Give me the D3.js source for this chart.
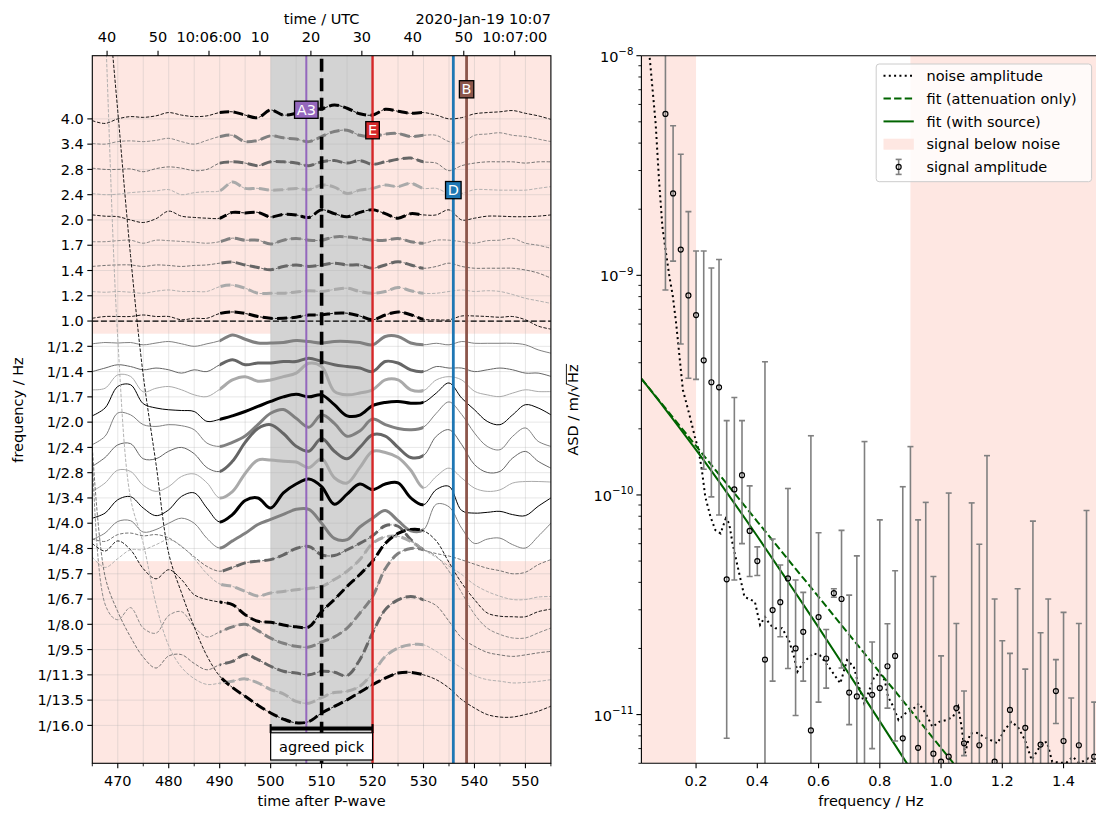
<!DOCTYPE html>
<html><head><meta charset="utf-8">
<script src="https://cdn.jsdelivr.net/npm/d3@7"></script>
<style>body{margin:0;background:#fff}svg{display:block}text{font-family:"DejaVu Sans","Liberation Sans",sans-serif}</style>
</head><body><svg id="c" width="1096" height="814"></svg>
<script>
// ---------------- DATA: left panel ----------------
const rowLabels = ["4.0","3.4","2.8","2.4","2.0","1.7","1.4","1.2","1.0","1/1.2","1/1.4","1/1.7","1/2.0","1/2.4","1/2.8","1/3.4","1/4.0","1/4.8","1/5.7","1/6.7","1/8.0","1/9.5","1/11.3","1/13.5","1/16.0"];
const traceTimes = [465,467.5,470,472.5,475,477.5,480,482.5,485,487.5,490,492.5,495,497.5,500,502.5,505,507.5,510,512.5,515,517.5,520,522.5,525,527.5,530,532.5,535,537.5,540,542.5,545,547.5,550,552.5,555];
// normalised trace amplitude per frequency row (row units, positive = upwards)
const traceOffsets = [
[-0.07,-0.18,0.0,0.09,0.06,0.12,0.25,0.15,0.09,0.12,0.25,0.28,0.15,0.05,0.35,0.15,0.22,0.35,0.40,0.55,0.42,0.2,0.15,0.38,0.3,0.22,0.25,0.15,0.0,0.05,0.2,0.25,0.28,0.33,0.22,0.12,-0.02],
[0.03,0.0,0.1,0.13,0.1,0.15,0.23,0.1,0.0,0.15,0.3,0.35,0.1,0.15,0.33,0.25,0.2,0.1,0.3,0.5,0.55,0.35,0.3,0.4,0.42,0.3,0.35,0.35,0.1,0.05,0.35,0.4,0.45,0.35,0.3,0.2,0.1],
[0.05,0.0,0.0,0.02,-0.09,0.03,0.1,0.05,-0.05,0.0,0.25,0.3,0.25,0.15,0.3,0.3,0.25,0.15,0.3,0.35,0.25,0.35,0.2,0.3,0.4,0.45,0.3,0.25,-0.05,0.15,0.25,0.3,0.3,0.3,0.25,0.3,0.3],
[0.05,0.0,0.02,0.08,0.12,0.15,0.2,0.0,0.08,0.12,0.15,0.5,0.25,0.25,0.18,0.2,0.25,0.2,0.38,0.3,0.05,0.18,0.25,0.38,0.32,0.45,0.25,0.25,0.05,0.05,0.2,0.2,0.18,0.18,0.18,0.25,0.32],
[0.2,0.15,0.13,0.0,-0.1,0.05,0.35,0.15,0.1,0.07,0.07,0.3,0.28,0.3,0.12,0.22,0.2,0.1,0.4,0.25,0.13,0.3,0.4,0.25,0.07,0.25,0.2,0.2,0.4,0.0,0.07,0.15,0.15,0.13,0.13,0.15,0.2],
[0.14,0.14,0.18,0.2,0.08,0.2,0.18,0.15,0.12,0.08,0.14,0.28,0.2,0.2,0.05,0.2,0.27,0.2,0.2,0.33,0.33,0.27,0.2,0.2,0.27,0.14,0.08,0.2,0.2,0.14,0.08,0.18,0.2,0.27,0.08,0.0,-0.12],
[0.16,0.2,0.22,0.22,0.16,0.22,0.2,0.16,0.2,0.22,0.29,0.33,0.22,0.12,0.03,0.16,0.22,0.16,0.22,0.29,0.22,0.22,0.09,0.22,0.35,0.22,0.09,0.16,0.29,0.16,0.09,0.09,0.09,0.09,0.02,-0.1,-0.3],
[0.17,0.14,0.17,0.14,0.1,0.18,0.23,0.17,0.17,0.17,0.36,0.42,0.3,0.1,0.1,0.1,0.15,0.2,0.17,0.25,0.3,0.17,0.1,0.17,0.33,0.2,0.1,0.1,0.17,0.23,0.17,0.2,0.17,0.05,-0.1,-0.2,-0.3],
[0.11,0.18,0.18,0.18,0.24,0.18,0.18,0.05,0.11,0.11,0.3,0.36,0.3,0.18,0.11,0.11,0.15,0.24,0.24,0.31,0.31,0.2,0.05,0.24,0.36,0.25,0.07,0.05,0.05,0.2,0.2,0.18,0.15,0.18,0.05,-0.2,-0.32],
[0.1,0.15,0.13,0.15,0.06,0.13,0.19,0.1,0.0,0.1,0.22,0.45,0.28,0.13,0.13,0.15,0.23,0.19,0.13,0.19,0.19,0.15,0.06,0.39,0.39,0.13,0.06,0.12,0.06,0.19,0.12,0.12,0.12,0.12,0.06,-0.14,-0.27],
[0.0,0.14,0.27,0.2,0.07,0.14,0.07,-0.06,0.07,0.0,0.27,0.47,0.27,0.34,0.34,0.4,0.4,0.53,0.4,0.27,0.2,0.14,0.0,0.4,0.34,0.07,0.0,0.2,0.14,0.14,0.0,0.07,0.14,0.07,-0.06,-0.06,-0.19],
[0.28,0.34,0.87,0.81,0.2,0.34,0.41,0.28,0.08,0.01,0.3,0.67,0.8,0.62,0.67,0.8,0.94,1.33,1.2,0.22,0.08,0.15,0.28,0.67,0.67,0.28,0.25,0.67,0.8,0.67,0.22,0.08,0.01,0.15,0.28,0.21,0.21],
[0.25,0.56,1.41,1.48,0.73,0.56,0.49,0.46,0.42,0.03,0.11,0.25,0.42,0.62,0.82,1.0,1.1,1.0,1.08,0.69,0.25,0.28,0.65,0.78,0.82,0.75,0.78,1.15,1.55,0.95,0.49,0.03,-0.1,0.29,0.69,0.56,0.29],
[0.11,0.44,1.36,1.29,0.9,0.83,0.9,0.86,0.7,0.17,0.04,0.2,0.45,0.9,1.35,1.5,1.15,0.8,1.29,0.95,0.44,0.65,1.12,0.9,0.75,0.7,0.8,1.35,1.8,1.3,0.57,0.04,-0.09,0.44,0.77,0.24,0.04],
[0.25,0.6,1.1,1.15,0.55,0.55,0.85,1.0,0.75,0.2,0.05,0.45,1.2,1.75,1.9,1.55,1.05,0.85,1.35,0.85,0.55,1.0,1.5,1.45,1.0,0.6,0.68,1.44,1.7,1.11,0.32,0.01,0.05,0.58,0.84,0.45,0.18],
[0.26,0.59,1.1,1.05,0.5,0.26,0.45,0.85,0.95,0.6,0.0,0.25,0.97,1.5,1.5,1.45,1.42,1.2,1.55,0.8,0.59,1.2,1.84,1.8,1.6,1.1,0.4,0.85,1.18,0.79,0.39,0.26,0.32,0.59,0.65,0.65,0.63],
[0.2,0.4,0.93,1.05,0.6,0.3,0.53,1.06,1.2,0.6,0.05,0.34,0.9,1.0,0.6,1.2,1.55,1.75,1.45,0.75,1.15,1.55,1.33,1.55,1.6,1.0,0.73,1.33,1.46,0.5,0.4,0.43,0.47,0.34,0.3,0.67,1.0],
[0.35,0.61,1.07,1.1,0.65,0.75,1.0,1.2,1.0,0.4,0.02,0.3,0.6,0.95,1.15,1.35,1.55,1.55,1.0,0.4,0.35,0.85,1.2,1.5,1.1,0.7,0.74,1.75,1.65,0.8,0.2,0.37,0.41,0.15,0.02,0.48,1.0],
[1.38,1.28,1.55,1.61,1.5,1.55,1.42,1.08,0.67,0.29,0.1,0.25,0.43,0.5,0.56,0.75,1.0,1.08,0.75,0.72,0.95,1.2,1.5,1.9,1.88,1.35,0.95,0.8,0.7,0.55,0.38,0.22,0.12,0.0,0.06,0.36,0.56],
[1.66,1.25,1.6,1.95,1.95,2.15,2.35,2.1,1.6,1.0,0.6,0.5,0.3,0.12,0.24,0.3,0.37,0.42,0.5,0.77,1.1,1.56,2.2,2.46,2.48,2.28,1.95,1.65,1.3,0.97,0.57,0.3,0.11,-0.02,-0.02,0.08,0.1],
[3.2,2.9,3.3,2.95,2.2,1.8,2.16,1.77,1.17,0.98,0.88,0.78,0.38,0.12,0.08,-0.03,-0.1,-0.1,0.51,0.98,1.5,1.97,2.5,3.2,3.6,3.75,3.7,3.3,2.45,1.63,0.98,0.45,0.32,0.3,0.3,0.5,0.6],
[60,1.8,1.18,1.66,0.85,0.65,1.35,1.5,0.9,0.5,0.7,0.9,1.0,0.75,0.45,0.25,0.13,0.1,0.3,0.5,0.85,1.44,2.1,3.2,3.8,4.0,3.95,3.69,3.1,2.25,1.4,0.85,0.6,0.46,0.46,0.66,0.85],
[9,3.9,2.5,1.5,0.7,0.27,0.75,0.8,0.45,0.2,0.4,0.53,0.8,0.6,0.34,0.14,0.07,0.0,0.14,0.1,-0.03,0.6,1.66,2.58,2.97,3.1,2.97,2.74,2.12,1.46,1.13,0.89,0.79,0.73,0.79,0.87,0.93],
[40,27,14.3,8.0,6.2,3.8,2.15,1.3,0.85,0.62,0.67,0.75,0.84,0.68,0.42,0.25,-0.05,-0.12,0.1,0.3,0.35,0.55,1.07,1.73,2.06,2.19,2.19,1.93,1.6,1.27,0.97,0.81,0.75,0.68,0.7,0.74,0.81],
[36,30,24.3,18.6,13.85,10.35,6.8,5.25,3.9,2.75,1.95,1.5,1.15,0.8,0.49,0.25,0.1,0.15,0.49,0.75,1.01,1.31,1.61,1.87,2.07,2.1,2.0,1.81,1.48,1.02,0.69,0.43,0.33,0.33,0.43,0.56,0.76]
];
const signalWindow = [490, 530];          // bold part of every trace
const noiseRowBands = [[-2.5, 8.5], [17.5, 25.5]];   // rows where signal is below noise
const cornerRow = 8;                        // dashed line at 1.0 Hz
const pickWindow = [500, 520];
const agreedPick = 510;
const pickNames = ["A3", "E", "D", "B"];
const pickTimes = [507.0, 520.0, 535.85, 538.45];
const pickLabelRows = [-0.37, 0.44, 2.81, -1.18];
const timeTicks = [470, 480, 490, 500, 510, 520, 530, 540, 550];
const timeMinorTicks = [465, 475, 485, 495, 505, 515, 525, 535, 545, 555];
const utcZeroAfterP = 487.9;                // 10:06:00 UTC in seconds after P
const utcTickSeconds = [-20, -10, 0, 10, 20, 30, 40, 50, 60];
const utcTickLabels = ["40", "50", "10:06:00", "10", "20", "30", "40", "50", "10:07:00"];

// ---------------- DATA: right panel ----------------
const sigFreq = [0.1,0.125,0.15,0.175,0.2,0.225,0.25,0.275,0.3,0.325,0.35,0.375,0.4,0.425,0.45,0.475,0.5,0.525,0.55,0.575,0.6,0.625,0.65,0.675,0.7,0.725,0.75,0.775,0.8,0.825,0.85,0.875,0.9,0.925,0.95,0.975,1.0,1.025,1.05,1.075,1.1,1.125,1.15,1.175,1.2,1.225,1.25,1.275,1.3,1.325,1.35,1.375,1.4,1.425,1.45,1.475,1.5];
const sigAmp = [5.43e-9,2.36e-9,1.31e-9,8.1e-10,6.59e-10,4.1e-10,3.26e-10,3.09e-10,4.13e-11,1.06e-10,1.23e-10,6.86e-11,5.0e-11,1.78e-11,2.99e-11,3.25e-11,4.17e-11,2.0e-11,2.38e-11,8.47e-12,2.78e-11,1.8e-11,3.57e-11,3.36e-11,1.26e-11,1.21e-11,4e-12,1.23e-11,1.32e-11,1.66e-11,1.85e-11,7.8e-12,4e-12,7.06e-12,4e-12,6.64e-12,6.1e-12,6.43e-12,1.07e-11,7.4e-12,4e-12,7.25e-12,4e-12,6.1e-12,4e-12,1.05e-11,4e-12,8.7e-12,4e-12,7.3e-12,4e-12,1.28e-11,7.58e-12,4e-12,7.25e-12,4e-12,6.43e-12];
const sigLo = [8.57e-10,1.16e-9,4.87e-10,3.4e-10,3.36e-10,1.31e-10,9.8e-11,8.1e-11,7.8e-12,4.1e-11,6.0e-11,4.25e-11,4.3e-11,0,1.42e-11,2.26e-11,1.62e-11,9.9e-12,1.42e-11,0,1.14e-11,1.32e-11,3.42e-11,1.63e-11,9.0e-12,0,0,7.0e-12,0,1.07e-11,7.58e-12,0,0,0,0,0,0,0,0,6.5e-12,0,0,0,0,0,0,0,0,0,0,0,9.1e-12,0,0,0,0,0];
const sigHi = [2e-8,4.8e-9,3.56e-9,1.95e-9,1.29e-9,1.29e-9,1.08e-9,1.18e-9,2.18e-10,2.78e-10,2.18e-10,1.1e-10,5.8e-11,4.04e-10,6.3e-11,4.8e-11,1.07e-10,4.1e-11,3.6e-11,1.86e-10,6.73e-11,2.44e-11,3.74e-11,6.9e-11,3.5e-11,5.28e-11,1.75e-10,2.14e-11,7.7e-11,2.59e-11,4.52e-11,1.09e-10,1.66e-10,7.7e-11,9.25e-11,4.25e-11,1.85e-11,1.02e-10,2.6e-11,1.28e-11,9.2e-11,5.96e-11,1.51e-10,3.36e-11,2.17e-11,1.9e-11,3.74e-11,1.61e-11,7.6e-11,2.36e-11,3.36e-11,1.78e-11,2.92e-11,1.19e-11,2.6e-11,8.5e-11,1.14e-11];
const noiseFreq = [0.035,0.048,0.068,0.079,0.090,0.102,0.113,0.124,0.135,0.146,0.157,0.180,0.196,0.208,0.219,0.230,0.247,0.263,0.280,0.297,0.308,0.319,0.336,0.358,0.392,0.409,0.425,0.442,0.459,0.481,0.503,0.520,0.531,0.548,0.582,0.604,0.637,0.671,0.693,0.715,0.732,0.749,0.766,0.782,0.799,0.816,0.827,0.844,0.861,0.883,0.905,0.928,0.950,0.972,0.994,1.017,1.039,1.056,1.067,1.078,1.095,1.117,1.140,1.162,1.184,1.207,1.229,1.251,1.274,1.296,1.329,1.346,1.363,1.408,1.430,1.452,1.48,1.51];
const noiseLog10 = [-7.6,-8.00,-8.308,-8.566,-8.779,-8.900,-9.006,-9.094,-9.219,-9.371,-9.522,-9.644,-9.735,-9.795,-9.887,-10.008,-10.099,-10.160,-10.175,-10.107,-10.129,-10.220,-10.327,-10.464,-10.486,-10.592,-10.555,-10.592,-10.607,-10.607,-10.661,-10.737,-10.805,-10.767,-10.721,-10.729,-10.790,-10.858,-10.752,-10.782,-10.873,-10.949,-10.888,-10.828,-10.812,-10.843,-10.919,-10.964,-11.025,-10.995,-10.980,-10.949,-10.995,-11.056,-11.033,-11.025,-11.010,-10.964,-11.056,-11.177,-11.086,-11.083,-11.101,-11.116,-11.131,-11.071,-11.033,-11.056,-11.116,-11.207,-11.131,-11.124,-11.215,-11.221,-11.192,-11.221,-11.20,-11.23];
const fitFreq = [0.0215,0.1,0.2,0.3,0.4,0.5,0.6,0.7,0.8,0.9,1.0,1.1];
const fitAttenLog10 = [-9.471,-9.605,-9.777,-9.949,-10.121,-10.293,-10.464,-10.636,-10.808,-10.980,-11.152,-11.324];
const fitSourceLog10 = [-9.471,-9.610,-9.795,-9.988,-10.188,-10.394,-10.603,-10.816,-11.031,-11.247,-11.463,-11.68];
const noiseFreqBands = [[0, 0.2], [0.9, 2]];
const ampDecades = [-8, -9, -10, -11];
const freqTicks = [0.2, 0.4, 0.6, 0.8, 1.0, 1.2, 1.4];
const legendLabels = ["noise amplitude", "fit (attenuation only)", "fit (with source)", "signal below noise", "signal amplitude"];

traceOffsets.forEach((a,i)=>{ if(a.length!==traceTimes.length) throw new Error("row "+i+" len "+a.length); });
if (sigAmp.length!==sigFreq.length||sigLo.length!==sigFreq.length||sigHi.length!==sigFreq.length) throw new Error("sig len");
if (noiseLog10.length!==noiseFreq.length) throw new Error("noise len");

// ---------------- STYLE ----------------
const FS = 14.5;
const PINK = "#fee7e2";
const traceColors = ["#000000", "#808080", "#666666", "#aaaaaa"];
const pickColors = ["#9467bd", "#d62728", "#1f77b4", "#8c564b"];
const GREEN = "#006400";
const svg = d3.select("#c");
const defs = svg.append("defs");

// ================= LEFT PANEL =================
const L = {left: 92.3, right: 550.9, top: 55.7, bottom: 763.3};
const xT = d3.scaleLinear().domain([465, 555]).range([L.left, L.right]);
const yR = d3.scaleLinear().domain([-2.5, 25.5]).range([L.top, L.bottom]);
defs.append("clipPath").attr("id","clipL").append("rect").attr("x",L.left).attr("y",L.top).attr("width",L.right-L.left).attr("height",L.bottom-L.top);
defs.append("clipPath").attr("id","clipSig").append("rect").attr("x",xT(signalWindow[0])).attr("y",L.top).attr("width",xT(signalWindow[1])-xT(signalWindow[0])).attr("height",L.bottom-L.top);
const gL = svg.append("g").attr("clip-path","url(#clipL)");
noiseRowBands.forEach(b => gL.append("rect").attr("x",L.left).attr("width",L.right-L.left)
  .attr("y",yR(b[0])).attr("height",yR(b[1])-yR(b[0])).attr("fill",PINK));
gL.append("rect").attr("x",xT(pickWindow[0])).attr("width",xT(pickWindow[1])-xT(pickWindow[0]))
  .attr("y",L.top).attr("height",L.bottom-L.top).attr("fill","#d3d3d3");
// grid
const gridG = gL.append("g").attr("stroke","#b0b0b0").attr("stroke-opacity",0.35).attr("stroke-width",0.9);
timeTicks.concat(timeMinorTicks).forEach(t => gridG.append("line").attr("x1",xT(t)).attr("x2",xT(t)).attr("y1",L.top).attr("y2",L.bottom));
rowLabels.forEach((_,i) => gridG.append("line").attr("x1",L.left).attr("x2",L.right).attr("y1",yR(i)).attr("y2",yR(i)));
// traces
const lineGen = d3.line().x(d=>xT(d[0])).y(d=>yR(d[1])).curve(d3.curveCatmullRom.alpha(0.5));
const gThick = gL.append("g").attr("clip-path","url(#clipSig)");
traceOffsets.forEach((offs, r) => {
  const pts = traceTimes.map((t,i) => [t, r - offs[i]]);
  const noisy = r < noiseRowBands[0][1] || r > noiseRowBands[1][0];
  const col = traceColors[r % 4];
  gL.append("path").attr("d", lineGen(pts)).attr("fill","none").attr("stroke",col)
    .attr("stroke-width", noisy ? 0.9 : 1.0).attr("stroke-dasharray", noisy ? "3.4,1.6" : null);
  gThick.append("path").attr("d", lineGen(pts)).attr("fill","none").attr("stroke",col)
    .attr("stroke-width", 3).attr("stroke-dasharray", noisy ? "10,4.4" : null);
});
// 1 Hz dashed line
gL.append("line").attr("x1",L.left).attr("x2",L.right).attr("y1",yR(cornerRow)).attr("y2",yR(cornerRow))
  .attr("stroke","#000").attr("stroke-width",1.3).attr("stroke-dasharray","6,2.6");
// pick lines
const pickWidths = [2.0, 2.4, 2.8, 2.8];
pickTimes.forEach((t,i) => gL.append("line").attr("x1",xT(t)).attr("x2",xT(t)).attr("y1",L.top).attr("y2",L.bottom)
  .attr("stroke",pickColors[i]).attr("stroke-width",pickWidths[i]));
gL.append("line").attr("x1",xT(agreedPick)).attr("x2",xT(agreedPick)).attr("y1",L.top+3).attr("y2",L.bottom)
  .attr("stroke","#000").attr("stroke-width",3.6).attr("stroke-dasharray","13,6.5");
// pick labels
pickNames.forEach((n,i) => {
  const g = svg.append("g").attr("transform",`translate(${xT(pickTimes[i])},${yR(pickLabelRows[i])})`);
  const rect = g.append("rect");
  const tx = g.append("text").attr("text-anchor","middle").attr("dy","0.36em").attr("fill","#fff").style("font-size",FS+"px").text(n);
  const bb = tx.node().getBBox();
  rect.attr("x",bb.x-2.2).attr("y",bb.y-0.6).attr("width",bb.width+4.4).attr("height",bb.height+1.2)
    .attr("fill",pickColors[i]).attr("stroke","#000").attr("stroke-width",1.3);
});
// agreed pick bar + box
const barY = 728.6;
svg.append("line").attr("x1",xT(pickWindow[0])).attr("x2",xT(pickWindow[1])).attr("y1",barY).attr("y2",barY).attr("stroke","#000").attr("stroke-width",4);
pickWindow.forEach(t => svg.append("line").attr("x1",xT(t)).attr("x2",xT(t)).attr("y1",barY-4.5).attr("y2",barY+4.5).attr("stroke","#000").attr("stroke-width",2));
svg.append("rect").attr("x",xT(pickWindow[0])).attr("y",732.8).attr("width",xT(pickWindow[1])-xT(pickWindow[0])).attr("height",27.2)
  .attr("fill","#fff").attr("stroke","#000").attr("stroke-width",1.2);
svg.append("text").attr("x",xT(agreedPick)).attr("y",746.4).attr("dy","0.36em").attr("text-anchor","middle").style("font-size",FS+"px").text("agreed pick");
// frame
svg.append("rect").attr("x",L.left).attr("y",L.top).attr("width",L.right-L.left).attr("height",L.bottom-L.top)
  .attr("fill","none").attr("stroke","#000").attr("stroke-width",1.1);
// bottom axis
timeTicks.forEach(t => {
  svg.append("line").attr("x1",xT(t)).attr("x2",xT(t)).attr("y1",L.bottom).attr("y2",L.bottom+5).attr("stroke","#000").attr("stroke-width",1.1);
  svg.append("text").attr("x",xT(t)).attr("y",786.3).attr("text-anchor","middle").style("font-size",FS+"px").text(t);
});
timeMinorTicks.forEach(t => svg.append("line").attr("x1",xT(t)).attr("x2",xT(t)).attr("y1",L.bottom).attr("y2",L.bottom+3).attr("stroke","#000").attr("stroke-width",0.9));
svg.append("text").attr("x",(L.left+L.right)/2).attr("y",806).attr("text-anchor","middle").style("font-size",FS+"px").text("time after P-wave");
// left axis
rowLabels.forEach((lab,i) => {
  svg.append("line").attr("x1",L.left-5).attr("x2",L.left).attr("y1",yR(i)).attr("y2",yR(i)).attr("stroke","#000").attr("stroke-width",1.1);
  svg.append("text").attr("x",L.left-8.5).attr("y",yR(i)).attr("dy","0.36em").attr("text-anchor","end").style("font-size",FS+"px").text(lab);
});
svg.append("text").attr("transform",`translate(23,410) rotate(-90)`).attr("text-anchor","middle").style("font-size",FS+"px").text("frequency / Hz");
// top axis (UTC)
utcTickSeconds.forEach((s,i) => {
  const x = xT(utcZeroAfterP + s);
  svg.append("line").attr("x1",x).attr("x2",x).attr("y1",L.top-5).attr("y2",L.top).attr("stroke","#000").attr("stroke-width",1.1);
  svg.append("text").attr("x",x).attr("y",42).attr("text-anchor","middle").style("font-size",FS+"px").text(utcTickLabels[i]);
});
svg.append("text").attr("x",(L.left+L.right)/2).attr("y",23.5).attr("text-anchor","middle").style("font-size",FS+"px").text("time / UTC");
svg.append("text").attr("x",L.right).attr("y",23.5).attr("text-anchor","end").style("font-size",FS+"px").text("2020-Jan-19 10:07");

// ================= RIGHT PANEL =================
const R = {left: 641.4, right: 1100.3, top: 55.7, bottom: 763.3};
const xF = d3.scaleLinear().domain([0.0215, 1.52]).range([R.left, R.right]);
const yA = d3.scaleLog().domain([6e-12, 1e-8]).range([R.bottom, R.top]);
defs.append("clipPath").attr("id","clipR").append("rect").attr("x",R.left).attr("y",R.top).attr("width",R.right-R.left).attr("height",R.bottom-R.top);
const gR = svg.append("g").attr("clip-path","url(#clipR)");
noiseFreqBands.forEach(b => gR.append("rect").attr("x",xF(b[0])).attr("width",xF(b[1])-xF(b[0])).attr("y",R.top).attr("height",R.bottom-R.top).attr("fill",PINK));
// noise
const lgen = d3.line().x(d=>xF(d[0])).y(d=>yA(Math.pow(10,d[1]))).curve(d3.curveLinear);
gR.append("path").attr("d",lgen(noiseFreq.map((f,i)=>[f,noiseLog10[i]]))).attr("fill","none").attr("stroke","#000")
  .attr("stroke-width",2).attr("stroke-dasharray","2,3.3");
// fits
const fgen = d3.line().x(d=>xF(d[0])).y(d=>yA(Math.pow(10,d[1]))).curve(d3.curveMonotoneX);
gR.append("path").attr("d",fgen(fitFreq.map((f,i)=>[f,fitAttenLog10[i]]))).attr("fill","none").attr("stroke",GREEN).attr("stroke-width",2).attr("stroke-dasharray","7.4,3.2");
gR.append("path").attr("d",fgen(fitFreq.map((f,i)=>[f,fitSourceLog10[i]]))).attr("fill","none").attr("stroke",GREEN).attr("stroke-width",2);
// error bars
const ebG = gR.append("g").attr("stroke","#808080").attr("stroke-width",1.6);
sigFreq.forEach((f,i) => {
  const x = xF(f);
  const yHi = yA(sigHi[i]);
  const yLo = sigLo[i] > 0 ? yA(sigLo[i]) : R.bottom + 10;
  ebG.append("line").attr("x1",x).attr("x2",x).attr("y1",yHi).attr("y2",yLo);
  ebG.append("line").attr("x1",x-3).attr("x2",x+3).attr("y1",yHi).attr("y2",yHi);
  if (sigLo[i] > 0) ebG.append("line").attr("x1",x-3).attr("x2",x+3).attr("y1",yLo).attr("y2",yLo);
});
sigFreq.forEach((f,i) => gR.append("circle").attr("cx",xF(f)).attr("cy",yA(sigAmp[i])).attr("r",2.5)
  .attr("fill","none").attr("stroke","#000").attr("stroke-width",1.2));
// spines
svg.append("line").attr("x1",R.left).attr("x2",R.left).attr("y1",R.top).attr("y2",R.bottom).attr("stroke","#000").attr("stroke-width",1.1);
svg.append("line").attr("x1",R.left).attr("x2",1096).attr("y1",R.bottom).attr("y2",R.bottom).attr("stroke","#000").attr("stroke-width",1.1);
svg.append("line").attr("x1",R.left).attr("x2",1096).attr("y1",R.top).attr("y2",R.top).attr("stroke","#000").attr("stroke-width",1.1);
// x ticks
freqTicks.forEach(f => {
  svg.append("line").attr("x1",xF(f)).attr("x2",xF(f)).attr("y1",R.bottom).attr("y2",R.bottom+5).attr("stroke","#000").attr("stroke-width",1.1);
  svg.append("text").attr("x",xF(f)).attr("y",786.3).attr("text-anchor","middle").style("font-size",FS+"px").text(f.toFixed(1));
});
svg.append("text").attr("x",(R.left+R.right)/2).attr("y",806).attr("text-anchor","middle").style("font-size",FS+"px").text("frequency / Hz");
// y ticks
ampDecades.forEach(e => {
  const y = yA(Math.pow(10,e));
  svg.append("line").attr("x1",R.left-5).attr("x2",R.left).attr("y1",y).attr("y2",y).attr("stroke","#000").attr("stroke-width",1.1);
  const t = svg.append("text").attr("x",R.left-8).attr("y",y+6.1).attr("text-anchor","end").style("font-size",FS+"px");
  t.append("tspan").text("10");
  t.append("tspan").attr("dy",-6.8).style("font-size","10.2px").text("\u2212"+Math.abs(e));
});
for (let e = -12; e <= -9; e++) for (let k = 2; k <= 9; k++) {
  const v = k*Math.pow(10,e);
  if (v < 6e-12 || v > 1e-8) continue;
  const y = yA(v);
  svg.append("line").attr("x1",R.left-3).attr("x2",R.left).attr("y1",y).attr("y2",y).attr("stroke","#000").attr("stroke-width",0.9);
}
// y label with overline
const yl = svg.append("g").attr("transform","translate(578,410) rotate(-90)");
const ylt = yl.append("text").attr("text-anchor","middle").style("font-size",FS+"px").text("ASD / m/\u221AHz");
{
  const n = ylt.node();
  const s = n.getStartPositionOfChar(8), e = n.getEndPositionOfChar(10);
  yl.append("line").attr("x1",s.x+FS*0.55).attr("x2",e.x+0.5).attr("y1",-FS*0.80).attr("y2",-FS*0.80).attr("stroke","#000").attr("stroke-width",0.9);
}
// legend
const lg = svg.append("g");
lg.append("rect").attr("x",876.2).attr("y",64).attr("width",215.4).attr("height",117.7).attr("rx",3)
  .attr("fill","#fff").attr("fill-opacity",0.8).attr("stroke","#cccccc").attr("stroke-width",1);
const ly = [75.7, 98.6, 121.4, 144.2, 166.9];
const hx0 = 883.5, hx1 = 913.8, tx = 926.5;
lg.append("line").attr("x1",hx0).attr("x2",hx1).attr("y1",ly[0]).attr("y2",ly[0]).attr("stroke","#000").attr("stroke-width",2).attr("stroke-dasharray","2,3.3");
lg.append("line").attr("x1",hx0).attr("x2",hx1).attr("y1",ly[1]).attr("y2",ly[1]).attr("stroke",GREEN).attr("stroke-width",2).attr("stroke-dasharray","7.4,3.2");
lg.append("line").attr("x1",hx0).attr("x2",hx1).attr("y1",ly[2]).attr("y2",ly[2]).attr("stroke",GREEN).attr("stroke-width",2);
lg.append("rect").attr("x",hx0).attr("y",ly[3]-5.5).attr("width",hx1-hx0).attr("height",11).attr("fill",PINK);
const ex = (hx0+hx1)/2;
lg.append("line").attr("x1",ex).attr("x2",ex).attr("y1",ly[4]-7.5).attr("y2",ly[4]+7.5).attr("stroke","#808080").attr("stroke-width",1.6);
[ly[4]-7.5, ly[4]+7.5].forEach(y => lg.append("line").attr("x1",ex-3).attr("x2",ex+3).attr("y1",y).attr("y2",y).attr("stroke","#808080").attr("stroke-width",1.6));
lg.append("circle").attr("cx",ex).attr("cy",ly[4]).attr("r",2.5).attr("fill","none").attr("stroke","#000").attr("stroke-width",1.2);
legendLabels.forEach((s,i) => lg.append("text").attr("x",tx).attr("y",ly[i]).attr("dy","0.36em").style("font-size",FS+"px").text(s));
</script></body></html>
